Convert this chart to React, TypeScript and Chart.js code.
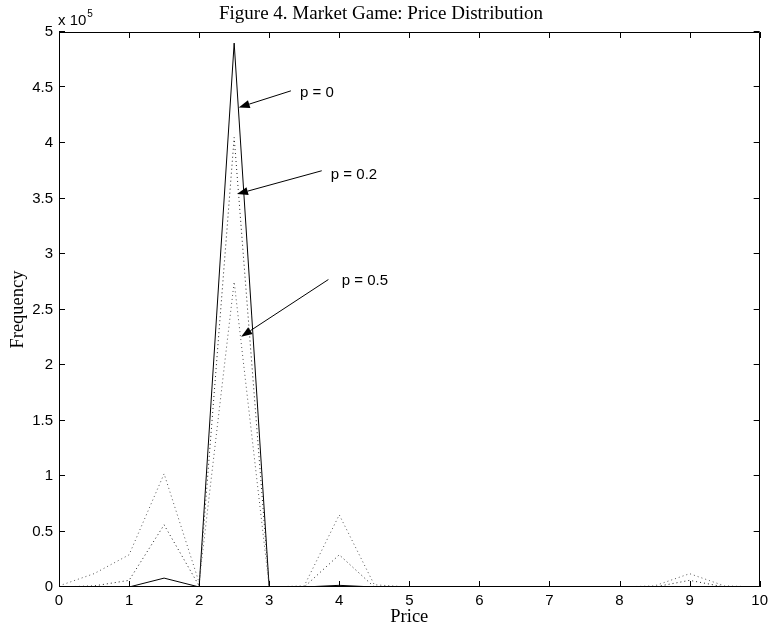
import { useEffect, useRef } from 'react';
import { Chart, registerables } from 'chart.js';

Chart.register(...registerables);

// ---- data (frequency counts) ----
const prices = [0, 0.5, 1, 1.5, 2, 2.5, 3, 3.5, 4, 4.5, 5, 5.5, 6, 6.5, 7, 7.5, 8, 8.5, 9, 9.5, 10];
const freqP0 = [0, 0, 0, 8000, 0, 490000, 0, 0, 1500, 0, 0, 0, 0, 0, 0, 0, 0, 0, 500, 0, 0];
const freqP02 = [0, 1000, 6000, 56000, 1000, 405000, 0, 0, 29000, 0, 0, 0, 0, 0, 0, 0, 0, 0, 6000, 0, 0];
const freqP05 = [1000, 12000, 29000, 102000, 4000, 275000, 0, 1000, 65000, 2000, 0, 0, 0, 0, 0, 0, 0, 1000, 12000, 1000, 0];

const xTickValues = [0, 1, 2, 3, 4, 5, 6, 7, 8, 9, 10];
const yTickValues = [0, 50000, 100000, 150000, 200000, 250000, 300000, 350000, 400000, 450000, 500000];
const yExponentBase = '10';
const yExponent = '5';

const titleText = 'Figure 4. Market Game: Price Distribution';
const xTitle = 'Price';
const yTitle = 'Frequency';

// annotation arrows (data coordinates)
const annLabels = ['p = 0', 'p = 0.2', 'p = 0.5'];
const annTipX = [2.565, 2.54, 2.6];
const annTipY = [432000, 354000, 225500];
const annTailX = [3.31, 3.75, 3.845];
const annTailY = [447000, 375000, 277000];
const annTextX = [3.44, 3.88, 4.035];
const annTextY = [445000, 371000, 275700];

const SANS = '"Liberation Sans", Arial, Helvetica, sans-serif';
const SERIF = '"Liberation Serif", "Times New Roman", serif';

const matlabPlugin = {
  id: 'matlabAxes',
  afterDraw(chart: any) {
    const ctx = chart.ctx as CanvasRenderingContext2D;
    const { left, right, top, bottom } = chart.chartArea;
    const xs = chart.scales.x;
    const ys = chart.scales.y;
    ctx.save();
    ctx.strokeStyle = '#000';
    ctx.lineWidth = 1;
    // box
    ctx.beginPath();
    ctx.rect(Math.round(left) + 0.5, Math.round(top) + 0.5, Math.round(right - left) - 1, Math.round(bottom - top) - 1);
    ctx.stroke();
    const tl = 6;
    ctx.beginPath();
    xTickValues.forEach((v) => {
      const px = Math.round(xs.getPixelForValue(v)) + 0.5;
      ctx.moveTo(px, bottom);
      ctx.lineTo(px, bottom - tl);
      ctx.moveTo(px, top);
      ctx.lineTo(px, top + tl);
    });
    yTickValues.forEach((v) => {
      const py = Math.round(ys.getPixelForValue(v)) - 0.5;
      ctx.moveTo(left, py);
      ctx.lineTo(left + tl, py);
      ctx.moveTo(right, py);
      ctx.lineTo(right - tl, py);
    });
    ctx.stroke();

    // title
    ctx.fillStyle = '#000';
    ctx.font = `19px ${SERIF}`;
    ctx.textAlign = 'center';
    ctx.textBaseline = 'alphabetic';
    ctx.fillText(titleText, 381, 19);

    // exponent
    ctx.font = `15px ${SANS}`;
    ctx.textAlign = 'left';
    ctx.fillText('x ' + yExponentBase, left - 1, 25);
    const w = ctx.measureText('x ' + yExponentBase).width;
    ctx.font = `10px ${SANS}`;
    ctx.fillText(yExponent, left - 1 + w + 1, 17);

    // annotations
    ctx.font = `15px ${SANS}`;
    ctx.textBaseline = 'middle';
    for (let i = 0; i < annLabels.length; i++) {
      const tx = xs.getPixelForValue(annTipX[i]);
      const ty = ys.getPixelForValue(annTipY[i]);
      const sx = xs.getPixelForValue(annTailX[i]);
      const sy = ys.getPixelForValue(annTailY[i]);
      const ang = Math.atan2(ty - sy, tx - sx);
      const hl = 11;
      const hw = 4;
      const bx = tx - hl * Math.cos(ang);
      const by = ty - hl * Math.sin(ang);
      ctx.beginPath();
      ctx.moveTo(sx, sy);
      ctx.lineTo(bx, by);
      ctx.stroke();
      ctx.beginPath();
      ctx.moveTo(tx, ty);
      ctx.lineTo(bx + hw * Math.sin(ang), by - hw * Math.cos(ang));
      ctx.lineTo(bx - hw * Math.sin(ang), by + hw * Math.cos(ang));
      ctx.closePath();
      ctx.fill();
      ctx.fillText(annLabels[i], xs.getPixelForValue(annTextX[i]), ys.getPixelForValue(annTextY[i]));
    }
    ctx.restore();
  },
};

export default function App() {
  const ref = useRef<HTMLCanvasElement | null>(null);
  useEffect(() => {
    if (!ref.current) return;
    const mk = (vals: number[]) => prices.map((p, i) => ({ x: p, y: vals[i] }));
    const chart = new Chart(ref.current, {
      type: 'line',
      data: {
        datasets: [
          { label: 'p = 0.5', data: mk(freqP05), borderColor: '#555', borderWidth: 1, borderDash: [1, 3], pointRadius: 0, fill: false, tension: 0 },
          { label: 'p = 0.2', data: mk(freqP02), borderColor: '#222', borderWidth: 1, borderDash: [1, 3], pointRadius: 0, fill: false, tension: 0 },
          { label: 'p = 0', data: mk(freqP0), borderColor: '#000', borderWidth: 1, pointRadius: 0, fill: false, tension: 0 },
        ],
      },
      options: {
        responsive: false,
        animation: false,
        devicePixelRatio: 1,
        layout: { padding: { top: 32, right: 11, left: 0, bottom: 0 } },
        plugins: { legend: { display: false }, tooltip: { enabled: false }, title: { display: false } },
        scales: {
          x: {
            type: 'linear',
            min: 0,
            max: 10,
            afterFit: (s: any) => { s.height = 46; },
            afterBuildTicks: (s: any) => { s.ticks = xTickValues.map((v) => ({ value: v })); },
            grid: { display: false, drawTicks: false },
            border: { display: false },
            ticks: { color: '#000', font: { family: SANS, size: 15 }, padding: 5, maxRotation: 0, callback: (v: any) => String(v) },
            title: { display: true, text: xTitle, color: '#000', font: { family: SERIF, size: 18.5 }, padding: { top: 0, bottom: 5 } },
          },
          y: {
            type: 'linear',
            min: 0,
            max: 500000,
            afterFit: (s: any) => { s.width = 59; },
            afterBuildTicks: (s: any) => { s.ticks = yTickValues.map((v) => ({ value: v })); },
            grid: { display: false, drawTicks: false },
            border: { display: false },
            ticks: { color: '#000', font: { family: SANS, size: 15 }, padding: 6, callback: (v: any) => String(v / 100000) },
            title: { display: true, text: yTitle, color: '#000', font: { family: SERIF, size: 18.5 }, padding: { top: 7, bottom: 0 } },
          },
        },
      },
      plugins: [matlabPlugin],
    } as any);
    return () => chart.destroy();
  }, []);
  return (
    <canvas
      ref={ref}
      width={773}
      height={633}
      style={{ position: 'absolute', left: 0, top: 0, width: 773, height: 633, background: '#fff' }}
    />
  );
}
